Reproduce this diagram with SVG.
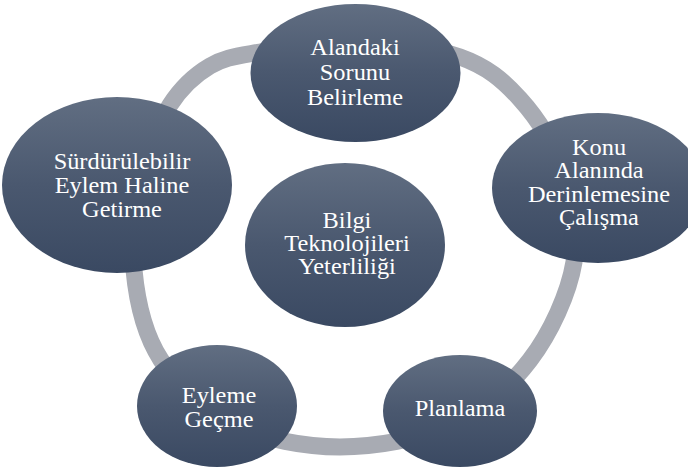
<svg xmlns="http://www.w3.org/2000/svg" width="688" height="470" viewBox="0 0 688 470">
<defs>
<linearGradient id="g" x1="0" y1="0" x2="0" y2="1">
<stop offset="0" stop-color="#616e82"/>
<stop offset="0.5" stop-color="#4a586f"/>
<stop offset="1" stop-color="#3a4962"/>
</linearGradient>
<style>
.n{fill:url(#g);}
.t{fill:#ffffff;font-family:'Liberation Serif','Times New Roman','DejaVu Serif',serif;font-size:23px;text-anchor:middle;}
.ring{fill:none;stroke:#a8abb3;stroke-width:17;}
</style>
</defs>
<rect width="688" height="470" fill="#ffffff"/>
<g id="connectors">
<path class="ring" d="M134,270 C131,238.3 137,197.5 143,170 C149,142.5 158.8,122.3 170,105 C181.2,87.7 195,74.8 210,66 C225,57.2 235.8,56.3 260,52 C284.2,47.7 321.7,39.2 355,40 C388.3,40.8 432.5,47.2 460,57 C487.5,66.8 503,80.2 520,99 C537,117.8 553,142.8 562,170 C571,197.2 579.3,230.3 574,262 C568.7,293.7 550.7,332.8 530,360 C509.3,387.2 481.7,410.5 450,425 C418.3,439.5 375.8,447 340,447 C304.2,447 264.8,439.5 235,425 C205.2,410.5 177.8,385.8 161,360 C144.2,334.2 137,301.7 134,270 Z"/>
</g>
<g id="node-top">
<ellipse class="n" cx="355.5" cy="73" rx="105" ry="69"/>
<g transform="matrix(1.06 0 0 1 -21.3 0)">
<text class="t" x="355" y="55">Alandaki</text>
<text class="t" x="355" y="80">Sorunu</text>
<text class="t" x="355" y="105">Belirleme</text>
</g>
</g>
<g id="node-right">
<ellipse class="n" cx="598" cy="188" rx="106" ry="75"/>
<g transform="matrix(1.06 0 0 1 -35.94 0)">
<text class="t" x="599" y="155">Konu</text>
<text class="t" x="599" y="178">Alanında</text>
<text class="t" x="599" y="202">Derinlemesine</text>
<text class="t" x="599" y="225">Çalışma</text>
</g>
</g>
<g id="node-left">
<ellipse class="n" cx="117" cy="185" rx="115" ry="88"/>
<g transform="matrix(1.06 0 0 1 -7.32 0)">
<text class="t" x="122" y="169">Sürdürülebilir</text>
<text class="t" x="122" y="193">Eylem Haline</text>
<text class="t" x="122" y="217">Getirme</text>
</g>
</g>
<g id="node-center">
<ellipse class="n" cx="345" cy="245" rx="100" ry="82"/>
<g transform="matrix(1.06 0 0 1 -20.82 0)">
<text class="t" x="347" y="228">Bilgi</text>
<text class="t" x="347" y="251">Teknolojileri</text>
<text class="t" x="347" y="274">Yeterliliği</text>
</g>
</g>
<g id="node-bottom-left">
<ellipse class="n" cx="217" cy="406" rx="80" ry="61"/>
<g transform="matrix(1.06 0 0 1 -13.14 0)">
<text class="t" x="219" y="403">Eyleme</text>
<text class="t" x="219" y="427">Geçme</text>
</g>
</g>
<g id="node-bottom-right">
<ellipse class="n" cx="460" cy="411" rx="77" ry="56"/>
<g transform="matrix(1.06 0 0 1 -27.6 0)">
<text class="t" x="460" y="416">Planlama</text>
</g>
</g>
</svg>
